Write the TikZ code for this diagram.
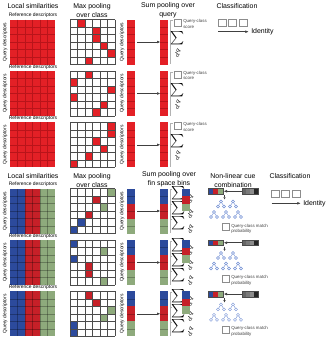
\documentclass[tikz,border=0pt]{standalone}
\usepackage{fontspec}
\usepackage{graphicx}
\setmainfont{Liberation Sans}
\usetikzlibrary{arrows.meta}
\definecolor{sred}{RGB}{227,32,38}
\definecolor{sredl}{RGB}{185,20,26}
\definecolor{bblue}{RGB}{44,74,156}
\definecolor{bred}{RGB}{198,32,40}
\definecolor{bgreen}{RGB}{142,170,124}
\definecolor{treeblue}{RGB}{110,140,210}
\tikzset{
 title/.style={font=\fontsize{5.2}{6.75}\selectfont, align=center, inner sep=0pt},
 lbl/.style={font=\fontsize{3.7}{4.4}\selectfont, inner sep=0pt},
 tinytxt/.style={font=\fontsize{3.3}{4.3}\selectfont, inner sep=0pt, align=left, text=black!75},
 arr/.style={draw=black!75, line width=0.4pt, -{Triangle[length=2.2pt,width=1.8pt]}},
 gsq/.style={draw=black!45, line width=0.35pt, minimum width=5.25pt, minimum height=5.25pt, inner sep=0pt, outer sep=0pt},
 csq/.style={draw=black!45, line width=0.35pt, minimum width=5.8pt, minimum height=5.3pt, inner sep=0pt, outer sep=0pt},
 gline/.style={draw=black!30, line width=0.35pt},
 gridln/.style={draw=black!70, line width=0.3pt},
 colframe/.style={minimum width=6pt, minimum height=33.75pt, inner sep=0pt, outer sep=0pt},
 barframe/.style={draw=black!70, line width=0.25pt, minimum width=11.25pt, minimum height=4.1pt, inner sep=0pt, outer sep=0pt},
 gbarframe/.style={draw=black!70, line width=0.25pt, minimum width=12pt, minimum height=4.1pt, inner sep=0pt, outer sep=0pt},
 treeln/.style={draw=treeblue, line width=0.3pt},
 sumsym/.style={inner sep=0pt, outer sep=0pt},
}
\newcommand{\tiltsum}{\sum\limits_{\rotatebox{60}{$\scriptstyle d^{q}$}}}
\newcommand{\tiltsumside}{\sum\nolimits_{\rotatebox{60}{$\scriptscriptstyle d^{q}$}}}
\begin{document}
\begin{tikzpicture}[x=0.75pt,y=-0.75pt]
\useasboundingbox (0,0) rectangle (331,339);

%%%%%%%%%%%%%%%% TOP PANEL %%%%%%%%%%%%%%%%
\node[title] (t1) at (33,6) {Local similarities};
\node[title] (t2) at (92,10.5) {Max pooling\\over class};
\node[title] (t3) at (168,10.5) {Sum pooling over\\query};
\node[title] (t4) at (237,6) {Classification};

\foreach \r/\y/\cells in {1/19.5/{1/0,3/1,3/2,4/3,5/4,2/5},2/71/{2/0,0/1,5/2,0/3,4/4,3/5},3/122.3/{5/0,5/1,3/2,4/3,2/4,0/5}}{
  \node[lbl] (rd\r) at (33,\y-4.2) {Reference descriptors};
  \node[lbl,rotate=90] (qd\r) at (5,\y+22.5) {Query descriptors};
  % similarity matrix
  \fill[sred] (10,\y) rectangle (55,\y+45);
  \foreach \i in {1,...,5}{
    \draw[sredl, line width=0.3pt] (10+7.5*\i,\y) -- (10+7.5*\i,\y+45);
    \draw[sredl, line width=0.3pt] (10,\y+7.5*\i) -- (55,\y+7.5*\i);
  }
  % max pooling grid
  \foreach \c/\k in \cells { \fill[sred] (70+7.5*\c,\y+7.5*\k) rectangle (77.5+7.5*\c,\y+7.5*\k+7.5); }
  \foreach \i in {0,...,6}{
    \draw[gridln] (70+7.5*\i,\y) -- (70+7.5*\i,\y+45);
    \draw[gridln] (70,\y+7.5*\i) -- (115,\y+7.5*\i);
  }
  % query columns
  \node[lbl,rotate=90] (qdc\r) at (122,\y+22.5) {Query descriptors};
  \fill[sred] (127,\y) rectangle (135,\y+45);
  \fill[sred] (160,\y) rectangle (168,\y+45);
  \foreach \i in {1,...,5}{
    \draw[sredl, line width=0.25pt] (127,\y+7.5*\i) -- (135,\y+7.5*\i);
    \draw[sredl, line width=0.25pt] (160,\y+7.5*\i) -- (168,\y+7.5*\i);
  }
  \node[colframe] (qa\r) at (131,\y+22.5) {};
  \node[colframe] (qb\r) at (164,\y+22.5) {};
  \draw[arr, shorten <=1.5pt] (qa\r) -- (qb\r);
  % bracket, score and sum
  \draw[gline] (172.5,\y+1) -- (170.5,\y+1) -- (170.5,\y+44.5);
  \node[gsq] (qs\r) at (177.5,\y+3.5) {};
  \node[tinytxt, anchor=north west] (qst\r) at (183,\y-0.3) {Query-class\\score};
  \node[sumsym, anchor=north] (sum\r) at (177.8,\y+12) {\fontsize{6}{6}\selectfont$\tiltsum$};
}

% classification top
\node[csq] (ca1) at (222,23) {};
\node[csq] (ca2) at (232.5,23) {};
\node[csq] (ca3) at (243,23) {};
\coordinate (ia) at (218,31.7);
\node[title, anchor=west] (ida) at (251,31.7) {Identity};
\draw[arr, shorten >=2pt] (ia) -- (ida.west);

%%%%%%%%%%%%%%%% BOTTOM PANEL %%%%%%%%%%%%%%%%
\node[title] (b1) at (33,176) {Local similarities};
\node[title] (b2) at (92,180.5) {Max pooling\\over class};
\node[title] (b3) at (169,179.6) {Sum pooling over\\fin space bins};
\node[title] (b4) at (233,180.5) {Non-linear cue\\combination};
\node[title] (b5) at (290,176) {Classification};

\foreach \r/\y/\cells in {1/188.5/{5/0/bgreen,3/1/bred,4/2/bgreen,2/3/bred,1/4/bblue,0/5/bblue},2/240/{0/0/bblue,4/1/bgreen,0/2/bblue,2/3/bred,2/4/bred,4/5/bgreen},3/291.3/{2/0/bred,3/1/bred,5/2/bgreen,4/3/bgreen,0/4/bblue,0/5/bblue}}{
  \node[lbl] (brd\r) at (33,\y-4) {Reference descriptors};
  \node[lbl,rotate=90] (bqd\r) at (5,\y+22.5) {Query descriptors};
  % similarity matrix
  \fill[bblue] (10,\y) rectangle (25,\y+45);
  \fill[bred] (25,\y) rectangle (40,\y+45);
  \fill[bgreen] (40,\y) rectangle (55,\y+45);
  \foreach \i in {1,...,5}{
    \draw[black, opacity=0.28, line width=0.3pt] (10+7.5*\i,\y) -- (10+7.5*\i,\y+45);
    \draw[black, opacity=0.28, line width=0.3pt] (10,\y+7.5*\i) -- (55,\y+7.5*\i);
  }
  % max pooling grid
  \foreach \c/\k/\col in \cells { \fill[\col] (70+7.5*\c,\y+7.5*\k) rectangle (77.5+7.5*\c,\y+7.5*\k+7.5); }
  \foreach \i in {0,...,6}{
    \draw[gridln] (70+7.5*\i,\y) -- (70+7.5*\i,\y+45);
    \draw[gridln] (70,\y+7.5*\i) -- (115,\y+7.5*\i);
  }
  % query columns
  \node[lbl,rotate=90] (bqdc\r) at (122,\y+22.5) {Query descriptors};
  \foreach \xx in {127,160}{
    \fill[bblue] (\xx,\y) rectangle (\xx+8,\y+15);
    \fill[bred] (\xx,\y+15) rectangle (\xx+8,\y+30);
    \fill[bgreen] (\xx,\y+30) rectangle (\xx+8,\y+45);
    \foreach \i in {1,3,5}{
      \draw[black, opacity=0.25, line width=0.25pt] (\xx,\y+7.5*\i) -- (\xx+8,\y+7.5*\i);
    }
  }
  \node[colframe] (bqa\r) at (131,\y+22.5) {};
  \node[colframe] (bqb\r) at (164,\y+22.5) {};
  \draw[arr, shorten <=1.5pt] (bqa\r) -- (bqb\r);
  % bracket and sums over bins
  \draw[gline] (170.5,\y+0.5) -- (170.5,\y+44.5);
  \foreach \k in {0,1,2}{
    \draw[gline] (170.5,\y+0.8+15*\k) -- (172.3,\y+0.8+15*\k);
    \node[sumsym, anchor=west] (bs\r\k) at (171.6,\y+7.3+15*\k) {\fontsize{4}{4}\selectfont$\tiltsumside$};
  }
  % pooled bins
  \fill[bblue] (182,\y) rectangle (190,\y+7.5);
  \fill[bred] (182,\y+7.5) rectangle (190,\y+15);
  \fill[bgreen] (182,\y+15) rectangle (190,\y+22.5);
  % cue combination
  \fill[bblue] (208,\y) rectangle (213,\y+5.5);
  \fill[bred] (213,\y) rectangle (218,\y+5.5);
  \fill[bgreen] (218,\y) rectangle (223,\y+5.5);
  \node[barframe] (cb\r) at (215.5,\y+2.75) {};
  \fill[black!60] (242,\y) rectangle (246,\y+5.5);
  \fill[black!52] (246,\y) rectangle (250,\y+5.5);
  \fill[black!45] (250,\y) rectangle (254,\y+5.5);
  \fill[black!85] (254,\y) rectangle (258,\y+5.5);
  \node[gbarframe] (gb\r) at (250,\y+2.75) {};
  \draw[arr, shorten >=0.8pt] (gb\r) -- (cb\r);
  \coordinate (da\r) at (224.5,\y+6.5);
  \coordinate (db\r) at (224.5,\y+11);
  \draw[draw=black!75, line width=0.35pt, -{Triangle[length=1.6pt,width=1.5pt]}] (da\r) -- (db\r);
  % decision trees
  \foreach \tx/\ty in {221/13,233/13,214/23.5,226/23.5,238/23.5}{
    \draw[treeln] (\tx,\y+\ty) circle[radius=1.5];
    \draw[treeln] (\tx-3,\y+\ty+5) circle[radius=1.5];
    \draw[treeln] (\tx+3,\y+\ty+5) circle[radius=1.5];
    \draw[treeln] (\tx-0.77,\y+\ty+1.29) -- (\tx-2.23,\y+\ty+3.71);
    \draw[treeln] (\tx+0.77,\y+\ty+1.29) -- (\tx+2.23,\y+\ty+3.71);
  }
  \node[gsq] (pb\r) at (225.5,\y+38.7) {};
  \node[tinytxt, anchor=north west] (pt\r) at (231,\y+35.2) {Query-class match\\probability};
}

% classification bottom
\node[csq] (cb1x) at (275,193.6) {};
\node[csq] (cb2x) at (285.5,193.6) {};
\node[csq] (cb3x) at (296,193.6) {};
\coordinate (ib) at (271.5,203.3);
\node[title, anchor=west] (idb) at (303,203.3) {Identity};
\draw[arr, shorten >=2pt] (ib) -- (idb.west);
\end{tikzpicture}
\end{document}
